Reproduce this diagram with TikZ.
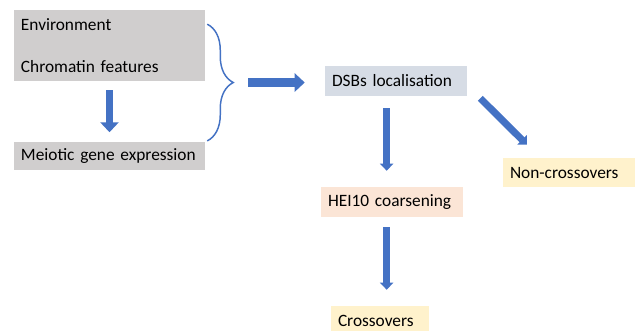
\documentclass[tikz,border=0pt]{standalone}
\usepackage{fontspec}
\setmainfont{Carlito}
\usepackage{tikz}
\usetikzlibrary{arrows.meta, positioning, calc, decorations.pathreplacing}
\definecolor{boxgray}{HTML}{D0CECE}
\definecolor{boxblue}{HTML}{D6DCE5}
\definecolor{boxpeach}{HTML}{FBE5D6}
\definecolor{boxyellow}{HTML}{FFF2CC}
\definecolor{arrowblue}{HTML}{4472C4}

\begin{document}
\begin{tikzpicture}[
                x=0.75pt, y=-0.75pt,
                font=\fontsize{13}{15.5}\selectfont,
                box/.style={inner xsep=5.25pt, inner ysep=0pt, align=left, minimum height=22.5pt},
                fatarrow/.style={line width=6.75pt, arrowblue, -{Triangle[width=13.5pt, length=7.5pt]}},
                thinarrow/.style={line width=5.25pt, arrowblue, -{Triangle[width=9.75pt, length=5.25pt]}},
                brace/.style={arrowblue, line width=1.1pt, decorate, decoration={brace, amplitude=19.5pt}},
            ]

                \path[use as bounding box, fill=white] (0,0) rectangle (640,330);

                % Boxes
                \node[box, fill=boxgray, text width=132.75pt, minimum height=53.25pt] (env) at (109.5,45.5)
                    {Environment\\[16pt]Chromatin features};
                \node[box, fill=boxgray, text width=132.75pt, minimum height=21pt, below=45pt of env] (meiotic)
                    {Meiotic gene expression};
                \node[box, fill=boxblue, text width=96pt] (dsb) at (396,81) {DSBs localisation};
                \node[box, fill=boxpeach, text width=96pt] (hei) at (392,202) {HEI10 coarsening};
                \node[box, fill=boxyellow, text width=88.5pt, minimum height=21.75pt] (noncross) at (569,172.5) {Non-crossovers};
                \node[box, fill=boxyellow, text width=63pt, minimum height=21.75pt] (cross) at (380,320.5) {Crossovers};

                % Brace over the inputs
                \coordinate (btop) at ([shift={(1.5pt,16pt)}]env.east);
                \coordinate (bbot) at ([shift={(1.5pt,11pt)}]meiotic.east);
                \coordinate (btip) at ($(btop)!0.5!(bbot)+(19.5pt,0)$);
                \draw[brace] (btop) -- (bbot);

                % Arrows
                \draw[fatarrow, line width=5.25pt, shorten <=6.75pt, shorten >=6.75pt] (env.south) -- (meiotic.north);
                \draw[fatarrow, shorten <=11.25pt, shorten >=15pt] (btip) -- (btip -| dsb.west);
                \draw[thinarrow, shorten <=9pt, shorten >=12pt] ([xshift=-7pt]dsb.south) -- ([xshift=-7pt]dsb.south |- hei.north);
                \draw[thinarrow, shorten <=7.5pt, shorten >=12pt] ([xshift=-4pt]hei.south) -- ([xshift=-4pt]hei.south |- cross.north);
                \draw[thinarrow] ([shift={(9.75pt,-1.5pt)}]dsb.south east) -- ([shift={(-31.5pt,9.75pt)}]noncross.north);
            \end{tikzpicture}
\end{document}
